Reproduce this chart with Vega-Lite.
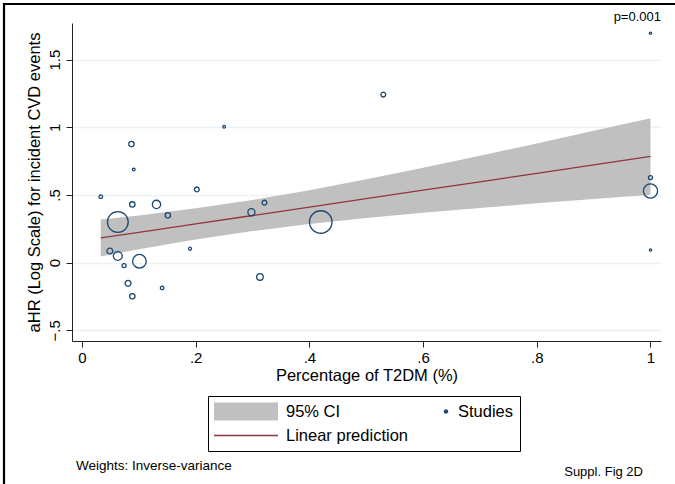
{
  "$schema": "https://vega.github.io/schema/vega-lite/v6.json",
  "width": 589,
  "height": 318,
  "autosize": "none",
  "padding": {"left": 72, "top": 23, "right": 14, "bottom": 143},
  "background": "white",
  "config": {
    "font": "Liberation Sans",
    "view": {"stroke": null},
    "axis": {
      "domainColor": "#222",
      "domainWidth": 1,
      "tickColor": "#222",
      "tickSize": 6,
      "tickWidth": 1,
      "labelFont": "Liberation Sans",
      "labelFontSize": 15,
      "labelColor": "#000",
      "titleFont": "Liberation Sans",
      "titleFontSize": 16.5,
      "titleFontWeight": "normal",
      "titleColor": "#000"
    }
  },
  "datasets": {
    "studies": [
      {"x": 0.033, "y": 0.487, "w": 4},
      {"x": 0.063, "y": 0.30, "w": 137},
      {"x": 0.049, "y": 0.086, "w": 11},
      {"x": 0.063, "y": 0.049, "w": 25},
      {"x": 0.101, "y": 0.01, "w": 59},
      {"x": 0.074, "y": -0.022, "w": 5.3},
      {"x": 0.081, "y": -0.153, "w": 11},
      {"x": 0.0885, "y": -0.249, "w": 9},
      {"x": 0.087, "y": 0.876, "w": 9},
      {"x": 0.091, "y": 0.687, "w": 2.3},
      {"x": 0.0885, "y": 0.43, "w": 9},
      {"x": 0.131, "y": 0.43, "w": 22},
      {"x": 0.151, "y": 0.349, "w": 9},
      {"x": 0.141, "y": -0.187, "w": 4},
      {"x": 0.19, "y": 0.103, "w": 2.9},
      {"x": 0.202, "y": 0.541, "w": 7.3},
      {"x": 0.25, "y": 1.004, "w": 2.3},
      {"x": 0.298, "y": 0.372, "w": 16},
      {"x": 0.321, "y": 0.443, "w": 7.3},
      {"x": 0.313, "y": -0.106, "w": 13.7},
      {"x": 0.42, "y": 0.30, "w": 161},
      {"x": 0.53, "y": 1.241, "w": 7.3},
      {"x": 1.0, "y": 1.694, "w": 1.7},
      {"x": 1.0, "y": 0.628, "w": 5.3},
      {"x": 1.0, "y": 0.529, "w": 64},
      {"x": 1.0, "y": 0.093, "w": 1.7}
    ],
    "fit": [
      {"x": 0.033, "lo": 0.046, "hi": 0.318, "fit": 0.182},
      {"x": 0.1, "lo": 0.098, "hi": 0.348, "fit": 0.223},
      {"x": 0.2, "lo": 0.171, "hi": 0.401, "fit": 0.286},
      {"x": 0.3, "lo": 0.233, "hi": 0.463, "fit": 0.348},
      {"x": 0.4, "lo": 0.285, "hi": 0.535, "fit": 0.410},
      {"x": 0.5, "lo": 0.330, "hi": 0.616, "fit": 0.473},
      {"x": 0.6, "lo": 0.369, "hi": 0.701, "fit": 0.535},
      {"x": 0.7, "lo": 0.404, "hi": 0.790, "fit": 0.597},
      {"x": 0.8, "lo": 0.438, "hi": 0.880, "fit": 0.659},
      {"x": 0.9, "lo": 0.470, "hi": 0.974, "fit": 0.722},
      {"x": 1.0, "lo": 0.501, "hi": 1.067, "fit": 0.784}
    ]
  },
  "layer": [
    {
      "data": {"name": "fit"},
      "mark": {"type": "area", "opacity": 1},
      "encoding": {
        "x": {
          "field": "x", "type": "quantitative",
          "scale": {"domain": [-0.0176, 1.0185], "nice": false, "zero": false},
          "axis": {
            "values": [0, 0.2, 0.4, 0.6, 0.8, 1],
            "labelExpr": "replace(format(datum.value, '.1~f'), '0.', '.')",
            "grid": false,
            "labelPadding": 3,
            "titlePadding": 2,
            "labelFlush": false,
            "title": "Percentage of T2DM (%)"
          }
        },
        "y": {
          "field": "lo", "type": "quantitative",
          "scale": {"domain": [-0.579, 1.77], "nice": false, "zero": false},
          "axis": {
            "values": [-0.5, 0, 0.5, 1, 1.5],
            "labelExpr": "replace(format(datum.value, '.1~f'), '0.', '.')",
            "grid": true,
            "gridColor": "#eaf2f3",
            "gridWidth": 1.5,
            "labelAngle": -90,
            "labelAlign": "center",
            "labelBaseline": "bottom",
            "labelPadding": 4,
            "titlePadding": 5,
            "title": "aHR (Log Scale) for incident CVD events"
          }
        },
        "y2": {"field": "hi"},
        "color": {
          "datum": "95% CI",
          "type": "nominal",
          "scale": {
            "domain": ["95% CI", "Studies", "Linear prediction"],
            "range": ["#c0c0c0", "#1a476f", "#90353b"]
          },
          "legend": {
            "title": null,
            "orient": "none",
            "direction": "horizontal",
            "legendX": 136,
            "legendY": 373,
            "columns": 2,
            "strokeColor": "#000",
            "fillColor": "white",
            "padding": 6,
            "cornerRadius": 0,
            "labelFont": "Liberation Sans",
            "labelFontSize": 16.5,
            "labelColor": "#000",
            "labelOffset": {"expr": "datum.value === 'Studies' ? -20 : 8"},
            "columnPadding": 6,
            "rowPadding": 5,
            "clipHeight": 19,
            "symbolSize": 4096,
            "symbolStrokeWidth": 0,
            "symbolOpacity": 1,
            "symbolFillColor": {"expr": "scale('color', datum.value)"},
            "symbolType": {"expr": "datum.value === 'Studies' ? 'M-0.07,0A0.07,0.07,0,1,1,0.07,0A0.07,0.07,0,1,1,-0.07,0Z' : (datum.value === '95% CI' ? 'M-1,-0.28H1V0.28H-1Z' : 'M-1,-0.025H1V0.025H-1Z')"},
            "values": ["95% CI", "Studies", "Linear prediction"]
          }
        }
      }
    },
    {
      "data": {"name": "fit"},
      "mark": {"type": "line", "strokeWidth": 1.3},
      "encoding": {
        "x": {"field": "x", "type": "quantitative"},
        "y": {"field": "fit", "type": "quantitative"},
        "color": {"datum": "Linear prediction", "type": "nominal"}
      }
    },
    {
      "data": {"name": "studies"},
      "mark": {"type": "point", "shape": "circle", "filled": false, "strokeWidth": 1.3, "opacity": 1},
      "encoding": {
        "x": {"field": "x", "type": "quantitative"},
        "y": {"field": "y", "type": "quantitative"},
        "size": {"field": "w", "type": "quantitative", "scale": {"domain": [0, 161], "range": [0, 507]}, "legend": null},
        "color": {"datum": "Studies", "type": "nominal"}
      }
    },
    {
      "data": {"values": [{"t": "p=0.001"}]},
      "mark": {"type": "text", "align": "right", "baseline": "alphabetic", "fontSize": 13, "font": "Liberation Sans", "color": "#000"},
      "encoding": {
        "x": {"datum": 1.0185, "type": "quantitative"},
        "y": {"datum": 1.787, "type": "quantitative"},
        "text": {"field": "t"}
      }
    },
    {
      "data": {"values": [{"t": "Weights: Inverse-variance"}]},
      "mark": {"type": "text", "align": "left", "baseline": "alphabetic", "fontSize": 13.5, "font": "Liberation Sans", "color": "#000"},
      "encoding": {
        "x": {"datum": -0.0106, "type": "quantitative"},
        "y": {"datum": -1.532, "type": "quantitative"},
        "text": {"field": "t"}
      }
    },
    {
      "data": {"values": [{"t": "Suppl. Fig 2D"}]},
      "mark": {"type": "text", "align": "right", "baseline": "alphabetic", "fontSize": 13, "font": "Liberation Sans", "color": "#000"},
      "encoding": {
        "x": {"datum": 0.9868, "type": "quantitative"},
        "y": {"datum": -1.576, "type": "quantitative"},
        "text": {"field": "t"}
      }
    },
    {
      "data": {"values": [{"frame": "outer"}]},
      "mark": {"type": "rect", "fillOpacity": 0, "stroke": "#000", "strokeWidth": 2.2},
      "encoding": {
        "x": {"datum": -0.1372, "type": "quantitative"},
        "x2": {"datum": 1.0519},
        "y": {"datum": 1.9103, "type": "quantitative"},
        "y2": {"datum": -1.6796}
      }
    }
  ]
}
